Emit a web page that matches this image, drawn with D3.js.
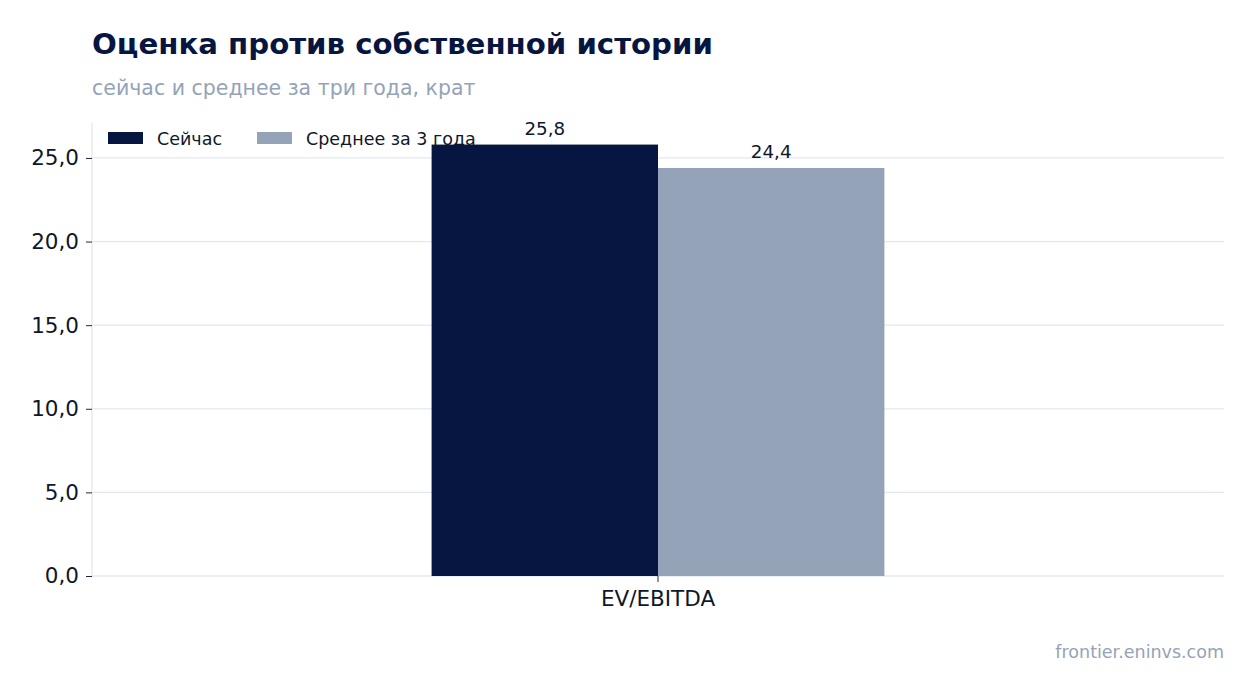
<!DOCTYPE html>
<meta charset="utf-8">
<script src="https://d3js.org/d3.v7.min.js"></script>
<style>
	body{ margin:0; background:#fff; }
	text{ font-family:"DejaVu Sans", sans-serif; }
</style>
<div id="chart"></div>
<script>

// values
var categories = ["EV/EBITDA"]
var seriesNames = ["Сейчас", "Среднее за 3 года"]
var nowValues = [25.8]
var avgValues = [24.4]
var yTicks = [0, 5, 10, 15, 20, 25]

var colors = ["#061640", "#94a3b8"]

const W = 1254, H = 693
const margin = {top: 123, right: 30, bottom: 117, left: 92},
    width = W - margin.left - margin.right,
    height = H - margin.top - margin.bottom;

const svg = d3.select("#chart")
  .append("svg")
    .attr("width", W)
    .attr("height", H)

// title + subtitle
svg.append("text").attr("x", 92).attr("y", 54)
	.text("Оценка против собственной истории")
	.attr("font-size", 29.2).attr("font-weight", "bold").attr("fill", "#061640")
svg.append("text").attr("x", 92).attr("y", 95)
	.text("сейчас и среднее за три года, крат")
	.attr("font-size", 20.5).attr("fill", "#94a3b8")
svg.append("text").attr("x", 1224).attr("y", 658)
	.attr("text-anchor", "end")
	.text("frontier.eninvs.com")
	.attr("font-size", 17.5).attr("fill", "#94a3b8")

const g = svg.append("g")
    .attr("transform", `translate(${margin.left},${margin.top})`);

var yMax = d3.max(nowValues.concat(avgValues)) * 1.05
var yScale = d3.scaleLinear().domain([0, yMax]).range([height, 0])
var xScale = d3.scaleBand().domain(categories).range([0, width]).paddingInner(0).paddingOuter(0.75)
var xSub = d3.scaleBand().domain(seriesNames).range([0, xScale.bandwidth()])

// grid
g.selectAll(".grid").data(yTicks).join("line")
	.attr("x1", 0).attr("x2", width)
	.attr("y1", d => yScale(d)).attr("y2", d => yScale(d))
	.attr("stroke", "#e2e8f0").attr("stroke-width", 1.3)

// left spine
g.append("line").attr("x1", 0).attr("x2", 0).attr("y1", 0).attr("y2", height)
	.attr("stroke", "#e2e8f0").attr("stroke-width", 1.3)

var fmt = v => d3.format(".1f")(v).replace(".", ",")

var yAxis = d3.axisLeft(yScale).tickValues(yTicks).tickFormat(fmt).tickSize(6).tickPadding(7)
var ya = g.append("g").call(yAxis)
ya.select(".domain").remove()
ya.selectAll("text").attr("font-size", 21.5).attr("fill", "#0f172a").style("font-family", "DejaVu Sans")
ya.selectAll("line").attr("stroke", "#1e293b")

var xAxis = d3.axisBottom(xScale).tickSize(6).tickPadding(9)
var xa = g.append("g").attr("transform", `translate(0,${height})`).call(xAxis)
xa.select(".domain").remove()
xa.selectAll("text").attr("font-size", 21.5).attr("fill", "#0f172a").style("font-family", "DejaVu Sans")
xa.selectAll("line").attr("stroke", "#1e293b")

// bars
var series = [nowValues, avgValues]
for (var s in series) {
	var vals = series[s]
	var name = seriesNames[s]
	categories.forEach(function(c, i) {
		var x0 = xScale(c) + xSub(name)
		g.append("rect")
			.attr("x", x0).attr("width", xSub.bandwidth())
			.attr("y", yScale(vals[i])).attr("height", height - yScale(vals[i]))
			.attr("fill", colors[s])
		g.append("text")
			.attr("x", x0 + xSub.bandwidth() / 2)
			.attr("y", yScale(vals[i]) - 9.5)
			.attr("text-anchor", "middle")
			.attr("font-size", 18.3).attr("fill", "#0f172a")
			.text(fmt(vals[i]))
	})
}

// legend
var legX = [108, 257]
seriesNames.forEach(function(n, i) {
	svg.append("rect").attr("x", legX[i]).attr("y", 132).attr("width", 35).attr("height", 12).attr("fill", colors[i])
	svg.append("text").attr("x", legX[i] + 49).attr("y", 144.5).attr("font-size", 17.5).attr("fill", "#0f172a").text(n)
})

</script>
